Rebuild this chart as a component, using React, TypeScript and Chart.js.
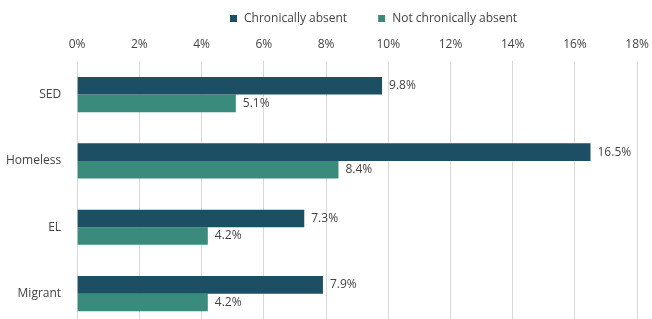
import React, { useEffect, useRef } from "react";
import { Chart, registerables } from "chart.js";

Chart.register(...registerables);

const categories = ["SED", "Homeless", "EL", "Migrant"];
const chronicallyAbsent = [9.8, 16.5, 7.3, 7.9];
const notChronicallyAbsent = [5.1, 8.4, 4.2, 4.2];
const seriesNames = ["Chronically absent", "Not chronically absent"];
const colors = ["#1c4f64", "#3a8b7c"];
const xMax = 18;
const xStep = 2;

const FONT = "'Open Sans', sans-serif";
const TEXT = "#444444";
const SHIFT_X = 10;

const labelPlugin = {
  id: "valueLabels",
  afterDatasetsDraw(chart: any) {
    const ctx = chart.ctx;
    ctx.save();
    ctx.font = `12px ${FONT}`;
    ctx.fillStyle = TEXT;
    ctx.textAlign = "left";
    ctx.textBaseline = "middle";
    chart.data.datasets.forEach((ds: any, i: number) => {
      const meta = chart.getDatasetMeta(i);
      meta.data.forEach((bar: any, j: number) => {
        ctx.fillText(ds.data[j].toFixed(1) + "%", bar.x + 7, bar.y);
      });
    });
    ctx.restore();
  },
};

const legendPlugin = {
  id: "customLegend",
  afterDraw(chart: any) {
    const ctx = chart.ctx;
    ctx.save();
    ctx.font = `12px ${FONT}`;
    ctx.textBaseline = "middle";
    const y = 18.5;
    const box = 7;
    const gapText = 7;
    const gapItems = 31;
    const widths = seriesNames.map((n) => box + gapText + ctx.measureText(n).width);
    let x = 230 + SHIFT_X;
    seriesNames.forEach((n, i) => {
      ctx.fillStyle = colors[i];
      ctx.fillRect(x, y - box / 2, box, box);
      ctx.fillStyle = TEXT;
      ctx.fillText(n, x + box + gapText, y);
      x += widths[i] + gapItems;
    });
    ctx.restore();
  },
};

export default function App() {
  const ref = useRef<HTMLCanvasElement>(null);
  useEffect(() => {
    if (!ref.current) return;
    const chart = new Chart(ref.current, {
      type: "bar",
      data: {
        labels: categories,
        datasets: [
          { label: seriesNames[0], data: chronicallyAbsent, backgroundColor: colors[0], categoryPercentage: 0.53, barPercentage: 1 },
          { label: seriesNames[1], data: notChronicallyAbsent, backgroundColor: colors[1], categoryPercentage: 0.53, barPercentage: 1 },
        ],
      },
      options: {
        indexAxis: "y",
        responsive: false,
        animation: false,
        layout: { padding: { top: 27, right: 13, bottom: 5, left: 0 } },
        plugins: { legend: { display: false }, tooltip: { enabled: false } },
        scales: {
          x: {
            position: "top",
            min: 0,
            max: xMax,
            ticks: {
              stepSize: xStep,
              padding: 10,
              color: TEXT,
              font: { family: FONT, size: 12 },
              callback: (v: any) => v + "%",
            },
            grid: { color: "#d9d9d9", drawTicks: false, lineWidth: 1 },
            border: { display: false },
          },
          y: {
            ticks: { padding: 16, color: TEXT, font: { family: FONT, size: 12 } },
            grid: { display: false, drawTicks: false },
            border: { display: false },
          },
        },
      },
      plugins: [labelPlugin, legendPlugin],
    });
    return () => chart.destroy();
  }, []);
  return (
    <div style={{ position: "fixed", left: 0, top: 0, width: 652, height: 319, overflow: "hidden" }}>
      <canvas
        ref={ref}
        width={669}
        height={350}
        style={{ display: "block", position: "absolute", left: -SHIFT_X, top: 0, width: 669, height: 350 }}
      />
    </div>
  );
}
